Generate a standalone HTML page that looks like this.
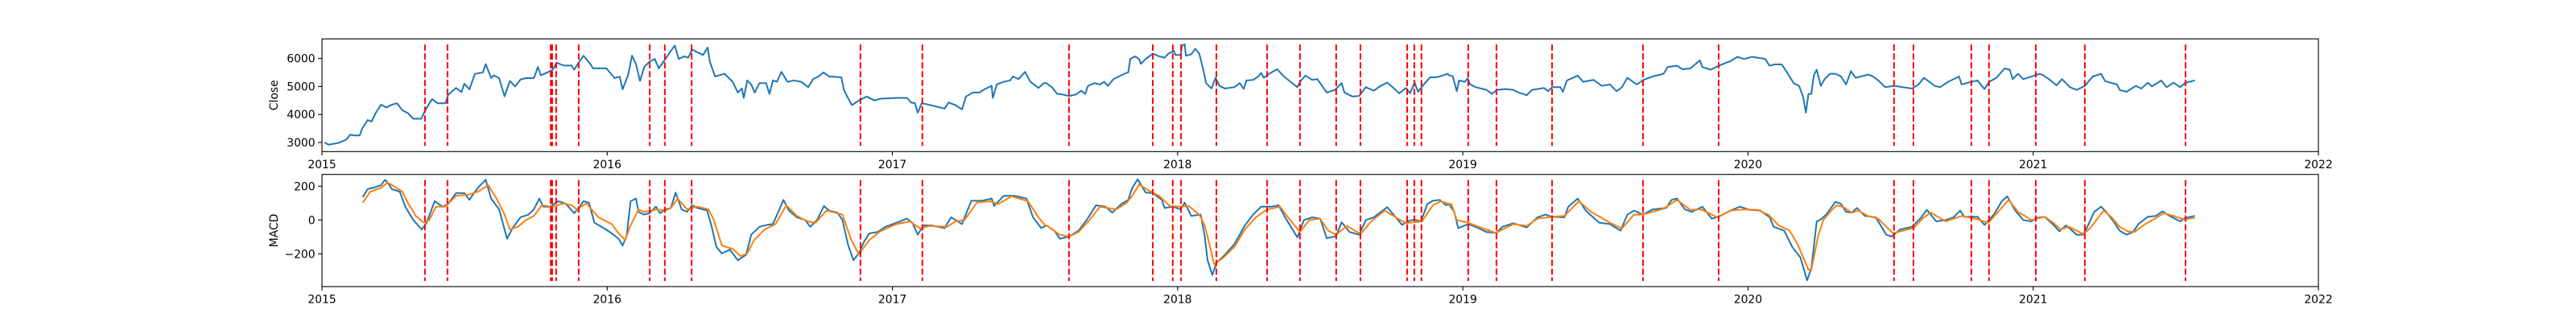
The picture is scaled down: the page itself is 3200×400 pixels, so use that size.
<!DOCTYPE html>
<html><head><meta charset="utf-8"><style>
html,body{margin:0;padding:0;background:#fff;}
svg{display:block;font-family:"DejaVu Sans","Liberation Sans",sans-serif;}
</style></head><body>
<svg id="chart" width="3200" height="400" xmlns="http://www.w3.org/2000/svg"></svg>
<script>
const closeDates = [
2015.009,2015.023,2015.056,2015.085,2015.099,2015.113,2015.132,2015.141,2015.160,2015.174,2015.188,2015.207,2015.226,2015.245,2015.263,2015.282,2015.301,2015.320,2015.348,2015.362,2015.386,2015.405,2015.433,2015.442,2015.470,2015.489,2015.499,2015.517,2015.536,2015.564,2015.574,2015.593,2015.602,2015.621,2015.640,2015.659,2015.677,2015.696,2015.715,2015.743,2015.757,2015.767,2015.790,2015.809,2015.823,2015.847,2015.875,2015.884,2015.903,2015.917,2015.941,2015.950,2015.978,2015.997,2016.026,2016.044,2016.054,2016.073,2016.087,2016.101,2016.115,
2016.130,2016.148,2016.167,2016.181,2016.204,2016.223,2016.237,2016.251,2016.270,2016.284,2016.298,2016.317,2016.336,2016.352,2016.360,2016.378,2016.411,2016.440,2016.458,2016.472,2016.479,2016.491,2016.505,2016.517,2016.534,2016.557,2016.569,2016.581,2016.595,2016.611,2016.632,2016.656,2016.680,2016.705,2016.722,2016.741,2016.758,2016.778,2016.821,2016.830,2016.844,2016.858,2016.882,2016.910,2016.938,2016.957,2017.014,2017.051,2017.065,2017.079,2017.089,2017.103,2017.126,2017.164,2017.183,2017.197,2017.221,2017.244,2017.258,2017.282,2017.305,2017.324,2017.348,2017.352,2017.366,2017.390,2017.413,2017.423,2017.442,2017.465,2017.484,2017.512,2017.531,
2017.540,2017.559,2017.578,2017.596,2017.619,2017.644,2017.662,2017.676,2017.686,2017.709,2017.728,2017.742,2017.756,2017.775,2017.794,2017.813,2017.827,2017.834,2017.851,2017.865,2017.871,2017.888,2017.913,2017.935,2017.954,2017.968,2017.987,2017.992,2018.011,2018.015,2018.025,2018.029,2018.048,2018.062,2018.076,2018.090,2018.100,2018.119,2018.133,2018.147,2018.166,2018.199,2018.218,2018.232,2018.241,2018.265,2018.283,2018.293,2018.302,2018.321,2018.349,2018.373,2018.396,2018.420,2018.429,2018.448,2018.472,2018.490,2018.523,2018.552,2018.575,2018.585,2018.613,2018.636,2018.660,2018.688,2018.712,2018.735,2018.754,2018.777,2018.801,2018.815,2018.831,2018.843,2018.867,2018.886,2018.909,2018.933,2018.947,
2018.951,2018.965,2018.979,2018.987,2019.007,2019.017,2019.026,2019.045,2019.064,2019.083,2019.102,2019.120,2019.149,2019.177,2019.196,2019.224,2019.243,2019.285,2019.299,2019.313,2019.342,2019.351,2019.365,2019.403,2019.422,2019.459,2019.487,2019.516,2019.539,2019.558,2019.577,2019.610,2019.633,2019.666,2019.704,2019.718,2019.751,2019.770,2019.798,2019.831,2019.840,2019.869,2019.892,2019.920,2019.939,2019.963,2019.986,2020.014,2020.033,2020.061,2020.075,2020.094,2020.118,2020.137,2020.160,2020.179,2020.193,2020.203,2020.212,
2020.222,2020.231,2020.241,2020.255,2020.269,2020.288,2020.307,2020.326,2020.344,2020.361,2020.377,2020.396,2020.422,2020.438,2020.457,2020.481,2020.513,2020.542,2020.575,2020.598,2020.617,2020.655,2020.674,2020.702,2020.740,2020.749,2020.784,2020.805,2020.829,2020.846,2020.871,2020.900,2020.918,2020.928,2020.947,2020.965,2021.010,
2021.021,2021.035,2021.059,2021.082,2021.101,2021.129,2021.153,2021.181,2021.209,2021.238,2021.252,2021.294,2021.303,2021.327,2021.360,2021.379,2021.402,2021.416,2021.449,2021.468,2021.492,2021.515,2021.534,2021.567];
const closeValues = [
3000,2920,2980,3100,3280,3250,3250,3500,3800,3750,4050,4350,4250,4350,4400,4150,4050,3850,3850,4150,4550,4400,4400,4700,4950,4800,5100,4900,5450,5500,5800,5300,5400,5300,4650,5200,5000,5250,5300,5300,5700,5400,5500,5600,5850,5750,5750,5600,5900,6100,5800,5650,5650,5650,5300,5350,4900,5400,6100,5800,5200,
5695,5886,5982,5647,5982,6269,6461,5982,6078,6030,6317,6222,6126,6394,5886,5359,5455,5168,4785,4928,4593,5216,5072,4785,5120,5120,4737,5216,5168,5522,5168,5216,5168,4976,5264,5359,5503,5359,5331,4880,4593,4334,4497,4641,4497,4564,4593,4593,4430,4401,4066,4401,4353,4258,4210,4430,4334,4181,4641,4785,4785,4909,5024,4593,5072,5168,5216,5359,5264,5522,5168,4947,5120,
5120,4976,4737,4717,4660,4717,4851,4737,5024,5120,5072,5168,5024,5264,5359,5455,5503,5982,6078,5982,5810,5982,6174,6078,6030,6174,6269,6126,6126,6461,6509,6097,6155,6346,6174,5599,5120,4928,5311,5024,4928,4976,5120,4909,5216,5235,5359,5484,5311,5455,5618,5359,5168,4976,5168,5388,5235,5264,4785,4880,5120,4785,4641,4660,4976,4851,5024,5139,4976,4756,4947,4756,5139,4813,5120,5331,5331,5407,5455,
5407,5359,4832,5216,5168,5292,5072,4976,4928,4880,4737,4880,4909,4880,4785,4689,4880,4947,4832,4976,4976,4813,5216,5388,5168,5235,5024,5072,4832,4976,5311,5072,5235,5359,5455,5695,5743,5618,5647,5934,5695,5599,5714,5839,5906,6059,5982,6059,6030,5982,5743,5791,5791,5503,5120,5024,4641,4066,4737,
4737,5407,5599,5024,5264,5455,5455,5359,5072,5551,5311,5359,5426,5359,5216,4976,5024,4976,4928,5072,5311,5024,4976,5168,5359,5072,5168,5216,4909,5168,5311,5647,5599,5264,5455,5264,5407,
5454,5406,5233,5042,5262,4974,4879,5022,5358,5454,5195,5070,4879,4811,5022,4926,5137,5003,5214,4974,5137,4974,5137,5214];

const macdDates = [
2015.143,2015.160,2015.179,2015.207,2015.221,2015.230,2015.245,2015.273,2015.292,2015.320,2015.350,2015.367,2015.395,2015.423,2015.442,2015.470,2015.499,2015.517,2015.536,2015.555,2015.574,2015.593,2015.621,2015.649,2015.668,2015.696,2015.724,2015.743,2015.762,2015.776,2015.800,2015.828,2015.856,2015.884,2015.903,2015.917,2015.936,2015.955,2015.988,2016.016,2016.040,2016.054,2016.068,2016.082,2016.101,2016.110,
2016.129,2016.148,2016.171,2016.185,2016.204,2016.223,2016.240,2016.261,2016.280,2016.298,2016.317,2016.350,2016.364,2016.383,2016.402,2016.430,2016.458,2016.487,2016.505,2016.534,2016.562,2016.581,2016.600,2016.618,2016.637,2016.665,2016.694,2016.712,2016.736,2016.760,2016.778,2016.807,2016.825,2016.844,2016.863,2016.882,2016.901,2016.919,2016.948,2016.976,2017.014,2017.051,2017.070,2017.089,2017.108,2017.136,2017.183,2017.206,2017.244,2017.277,2017.315,2017.348,2017.357,2017.390,2017.428,2017.470,2017.493,2017.522,
2017.540,2017.568,2017.587,2017.619,2017.653,2017.681,2017.714,2017.747,2017.771,2017.803,2017.827,2017.841,2017.860,2017.888,2017.913,2017.945,2017.954,2017.982,2018.011,2018.025,2018.048,2018.081,2018.095,2018.105,2018.122,2018.136,2018.161,2018.199,2018.236,2018.265,2018.293,2018.330,2018.354,2018.377,2018.420,2018.443,2018.472,2018.500,2018.523,2018.556,2018.575,2018.603,2018.636,2018.660,2018.688,2018.735,2018.773,2018.787,2018.806,2018.829,2018.853,2018.876,2018.895,2018.919,2018.942,
2018.951,2018.970,2018.984,2019.019,2019.055,2019.083,2019.118,2019.139,2019.177,2019.224,2019.262,2019.290,2019.312,2019.356,2019.370,2019.403,2019.431,2019.478,2019.516,2019.553,2019.577,2019.600,2019.631,2019.666,2019.713,2019.732,2019.751,2019.779,2019.803,2019.840,2019.873,2019.897,2019.939,2019.972,2020.005,2020.043,2020.076,2020.090,2020.127,2020.155,2020.184,2020.207,
2020.222,2020.241,2020.255,2020.274,2020.307,2020.326,2020.344,2020.363,2020.382,2020.410,2020.448,2020.485,2020.504,2020.533,2020.575,2020.608,2020.627,2020.660,2020.693,2020.721,2020.744,2020.758,2020.805,2020.829,2020.862,2020.890,2020.909,2020.937,2020.965,2020.994,
2021.012,2021.040,2021.068,2021.092,2021.115,2021.153,2021.174,2021.190,2021.214,2021.238,2021.256,2021.285,2021.303,2021.327,2021.350,2021.369,2021.402,2021.430,2021.454,2021.473,2021.515,2021.534,2021.567];
const macdValues = [
135,183,190,206,238,222,183,167,79,0,-56,-16,111,79,95,159,159,119,167,206,238,127,63,-111,-48,16,32,63,127,79,79,111,95,40,79,111,103,-16,-48,-79,-111,-151,-95,111,127,48,
32,40,79,40,63,71,162,63,48,87,71,56,-24,-159,-198,-175,-238,-206,-87,-40,-29,-24,48,119,56,16,0,-40,0,83,56,44,0,-143,-238,-198,-127,-79,-71,-40,-16,8,-16,-87,-32,-32,-48,16,-24,114,114,127,83,143,143,127,16,-48,
-32,-63,-111,-98,-63,0,87,79,44,95,119,190,241,162,159,119,71,79,63,103,24,32,-95,-238,-325,-254,-214,-143,-32,32,79,79,87,16,-103,0,16,8,-108,-95,-13,-71,-87,0,16,76,0,-29,-8,3,-8,95,114,119,87,
95,48,-48,-24,-48,-71,-76,-40,-19,-44,16,32,19,16,79,127,56,-16,-24,-63,32,56,32,63,71,119,127,63,48,79,8,19,56,79,60,56,16,-40,-63,-159,-222,-357,
-286,-8,3,32,108,95,48,44,71,24,16,-87,-98,-56,-40,16,60,-8,0,16,56,19,19,-29,32,111,140,56,0,-8,
13,19,-24,-67,-32,-87,-87,-40,48,79,48,-16,-63,-87,-71,-24,19,24,51,29,-8,13,24];

const signalDates = [
2015.143,2015.169,2015.207,2015.230,2015.254,2015.282,2015.301,2015.329,2015.357,2015.376,2015.400,2015.433,2015.470,2015.517,2015.546,2015.583,2015.612,2015.640,2015.659,2015.687,2015.715,2015.743,2015.771,2015.809,2015.847,2015.875,2015.894,2015.927,2015.969,2016.016,2016.040,2016.063,2016.082,2016.110,
2016.129,2016.176,2016.204,2016.223,2016.247,2016.280,2016.317,2016.355,2016.374,2016.402,2016.440,2016.468,2016.491,2016.515,2016.552,2016.590,2016.628,2016.665,2016.703,2016.731,2016.769,2016.825,2016.854,2016.882,2016.919,2016.957,2017.014,2017.061,2017.098,2017.127,2017.192,2017.221,2017.253,2017.296,2017.343,2017.371,2017.418,2017.475,2017.512,2017.536,
2017.540,2017.587,2017.619,2017.653,2017.691,2017.728,2017.756,2017.785,2017.822,2017.841,2017.865,2017.898,2017.935,2017.973,2018.011,2018.039,2018.076,2018.095,2018.114,2018.128,2018.161,2018.199,2018.236,2018.274,2018.312,2018.359,2018.387,2018.429,2018.462,2018.500,2018.528,2018.556,2018.594,2018.641,2018.679,2018.726,2018.773,2018.801,2018.857,2018.895,2018.923,2018.952,
2018.960,2018.979,2019.019,2019.055,2019.116,2019.177,2019.224,2019.262,2019.312,2019.356,2019.407,2019.450,2019.516,2019.558,2019.600,2019.631,2019.704,2019.751,2019.798,2019.836,2019.892,2019.939,2019.986,2020.033,2020.071,2020.108,2020.146,2020.174,2020.212,
2020.222,2020.246,2020.264,2020.288,2020.311,2020.335,2020.363,2020.387,2020.420,2020.457,2020.485,2020.509,2020.542,2020.580,2020.617,2020.641,2020.693,2020.749,2020.796,2020.843,2020.881,2020.914,2020.947,2020.994,
2021.040,2021.068,2021.096,2021.125,2021.176,2021.200,2021.247,2021.275,2021.303,2021.332,2021.355,2021.388,2021.426,2021.459,2021.492,2021.530,2021.567];
const signalValues = [
103,167,190,222,198,167,103,24,-16,0,79,79,143,151,167,206,127,32,-56,-40,0,24,87,79,98,87,63,98,16,-24,-79,-119,-32,63,
48,63,56,71,127,63,79,63,0,-151,-171,-214,-198,-119,-56,-24,87,24,-8,-16,56,32,-111,-203,-119,-67,-24,-8,-51,-35,-40,-8,0,103,111,95,140,111,16,-32,
-32,-87,-98,-71,0,79,71,63,103,143,210,175,143,83,79,83,32,-32,-159,-262,-222,-159,-56,16,60,79,16,-71,0,8,-63,-87,-35,-83,-8,56,8,-19,-8,87,111,95,
95,0,-16,-40,-76,-24,-35,8,19,24,111,48,-16,-51,32,32,67,119,60,63,16,56,63,60,32,-32,-63,-143,-294,
-294,-95,0,48,87,76,44,56,24,8,-40,-79,-63,-48,16,44,-8,24,8,-16,56,119,48,0,
19,-13,-56,-40,-83,-48,56,16,-40,-67,-71,-29,8,40,24,3,13];

const signalEventDates = [2015.361,2015.440,2015.802,2015.807,2015.821,2015.900,2016.149,2016.202,2016.296,2016.888,2017.105,2017.619,2017.913,2017.983,2018.012,2018.136,2018.314,2018.429,2018.556,2018.641,2018.805,2018.830,2018.855,2019.019,2019.118,2019.313,2019.632,2019.897,2020.512,2020.580,2020.783,2020.845,2021.009,2021.181,2021.534];

const xTickYears = [2015,2016,2017,2018,2019,2020,2021,2022];
const closeTicks = [3000,4000,5000,6000];
const macdTicks = [-200,0,200];

const NS = "http://www.w3.org/2000/svg";
const svg = document.getElementById('chart');
const X0 = 400, X1 = 2880;
const xScale = d => X0 + (d - 2015) / 7 * (X1 - X0);
const top1 = 48.3, bot1 = 188.3, top2 = 216.7, bot2 = 356;
const yClose = v => bot1 - (v - 2675) / (6701 - 2675) * (bot1 - top1);
const yMacd = v => bot2 - (v + 393.8) / (269.5 + 393.8) * (bot2 - top2);

function mk(tag, attrs, parent) {
  const e = document.createElementNS(NS, tag);
  for (const k in attrs) e.setAttribute(k, attrs[k]);
  (parent || svg).appendChild(e);
  return e;
}
function pathD(ds, vs, ys) {
  return ds.map((d, i) => (i ? 'L' : 'M') + xScale(d).toFixed(2) + ' ' + ys(vs[i]).toFixed(2)).join(' ');
}

function panel(name, top, bot, ticks, ys, label) {
  const g = mk('g', {});
  
  
  ticks.forEach(t => {
    const y = ys(t);
    const l = mk('line', {x1: X0 - 4.9, x2: X0, y1: y, y2: y, stroke: '#000', 'stroke-width': 1.1}, g);
    
    
    const tx = mk('text', {x: X0 - 8.4, y: y + 5, 'text-anchor': 'end', 'font-size': '13.9px', fill: '#000'}, g);
    
    
    tx.textContent = t < 0 ? '\u2212' + Math.abs(t) : String(t);
  });
  xTickYears.forEach(yr => {
    const x = xScale(yr);
    const l = mk('line', {x1: x, x2: x, y1: bot, y2: bot + 4.9, stroke: '#000', 'stroke-width': 1.1}, g);
    
    
    const tx = mk('text', {x: x, y: bot + 20.5, 'text-anchor': 'middle', 'font-size': '13.9px', fill: '#000'}, g);
    
    
    tx.textContent = String(yr);
  });
  const lab = mk('text', {x: 0, y: 0, 'text-anchor': 'middle', 'font-size': '13.9px', fill: '#000', transform: 'translate(345,' + ((top + bot) / 2) + ') rotate(-90)'}, g);
  
  
  lab.textContent = label;
  return g;
}

const g1 = panel('close', top1, bot1, closeTicks, yClose, 'Close');
const g2 = panel('macd', top2, bot2, macdTicks, yMacd, 'MACD');

const closeLine = mk('path', {d: pathD(closeDates, closeValues, yClose), fill: 'none', stroke: '#1f77b4', 'stroke-width': 2, 'stroke-linejoin': 'round'}, g1);



const macdLine = mk('path', {d: pathD(macdDates, macdValues, yMacd), fill: 'none', stroke: '#1f77b4', 'stroke-width': 2, 'stroke-linejoin': 'round'}, g2);


const sigLine = mk('path', {d: pathD(signalDates, signalValues, yMacd), fill: 'none', stroke: '#ff7f0e', 'stroke-width': 2, 'stroke-linejoin': 'round'}, g2);



[[g1, top1, bot1, 'close'], [g2, top2, bot2, 'macd']].forEach(([g, t, b, n]) => {
  const h = b - t;
  signalEventDates.forEach(d => {
    const x = xScale(d);
    const l = mk('line', {x1: x, x2: x, y1: t + 0.05 * h, y2: b - 0.05 * h, stroke: '#ff0000', 'stroke-width': 2, 'stroke-dasharray': '7.7 3.3'}, g);
    
    
  });
  const fr = mk('rect', {x: X0, y: t, width: X1 - X0, height: h, fill: 'none', stroke: '#000', 'stroke-width': 1.1}, g);
  
  
});
</script>
</body></html>
